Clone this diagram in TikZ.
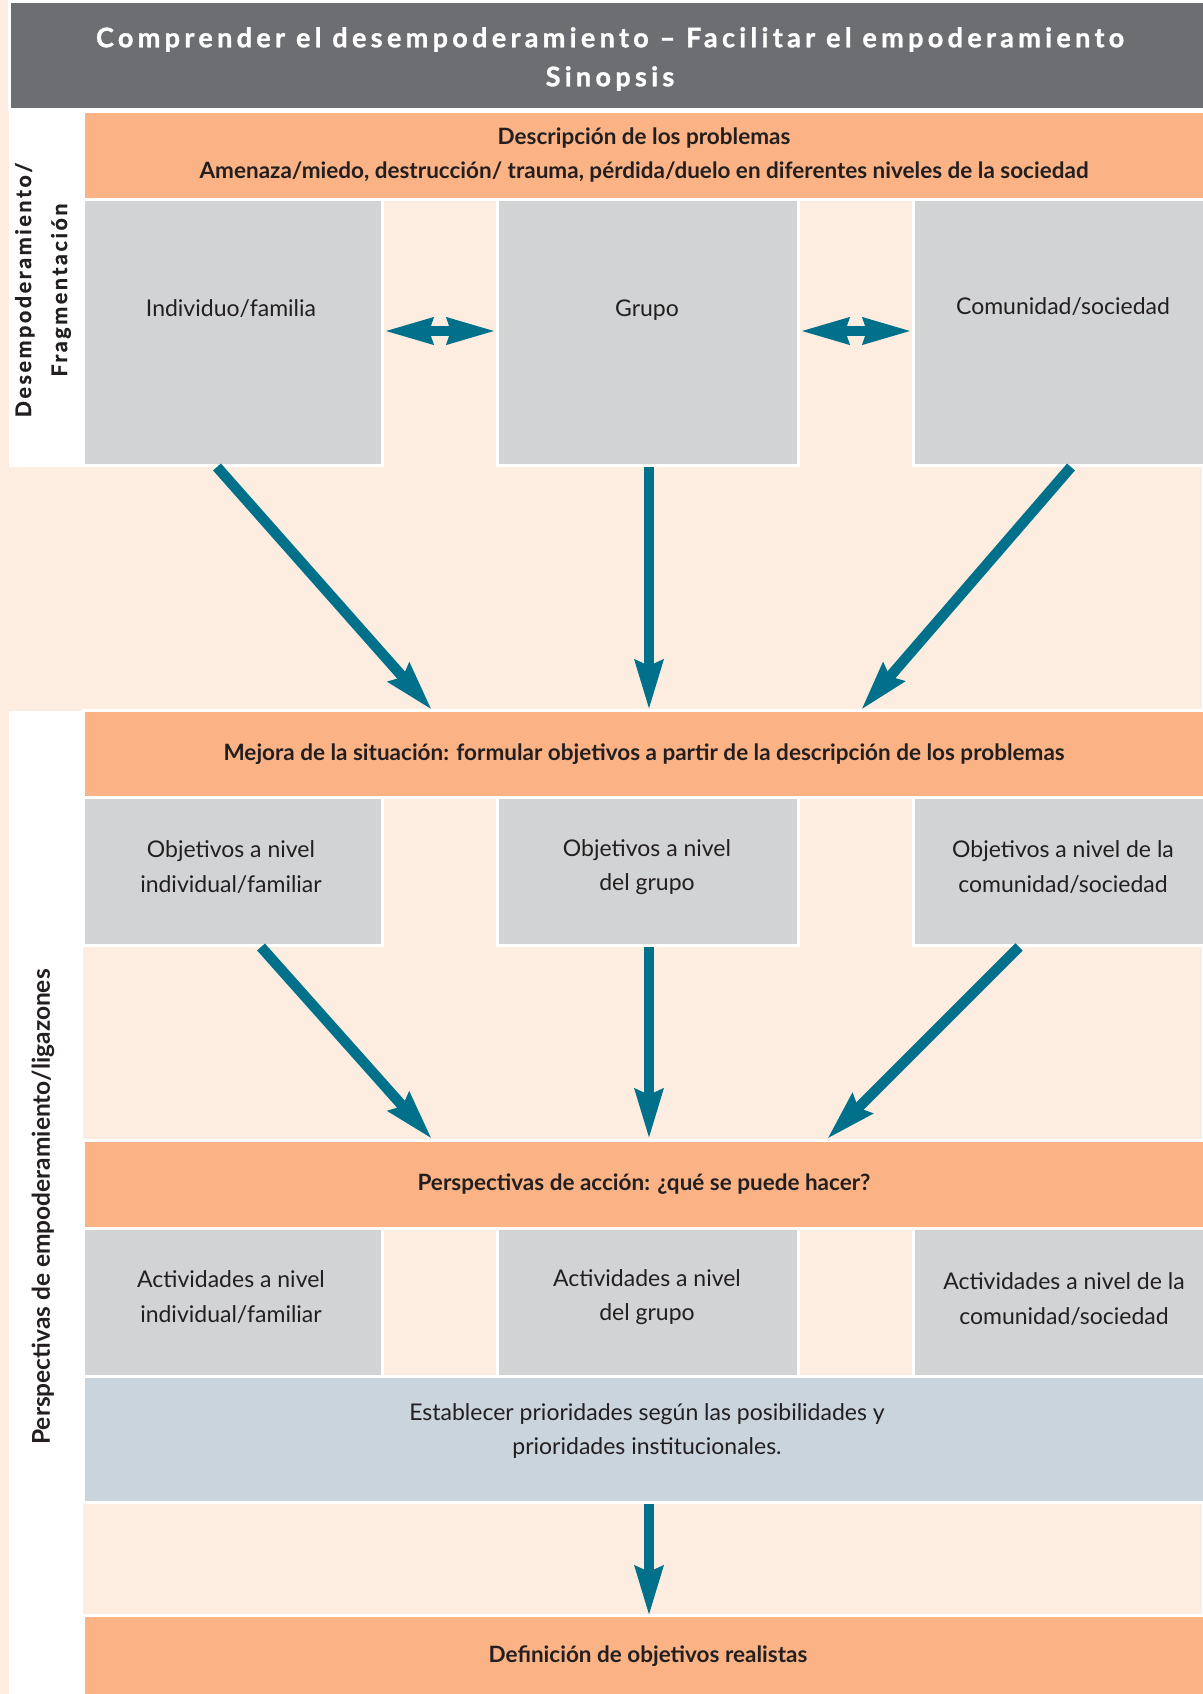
\documentclass[tikz,border=0pt]{standalone}
\usepackage{fontspec}
\setmainfont{Lato}
\newfontfamily\hdrfont[LetterSpace=16, FakeBold=1.2]{Lato}
\newfontfamily\lblfont[LetterSpace=12, FakeBold=0.8]{Lato}
\usetikzlibrary{arrows.meta}
\definecolor{peach}{HTML}{FDEDE0}
\definecolor{orng}{HTML}{FBB385}
\definecolor{gry}{HTML}{D1D3D4}
\definecolor{blu}{HTML}{C9D4DD}
\definecolor{hdrgray}{HTML}{6D6E71}
\definecolor{teal}{HTML}{00708B}
\definecolor{txt}{HTML}{231F20}
\tikzset{
  box/.style={draw=white, line width=3pt, inner sep=0pt, outer sep=0pt, text=txt, align=center},
  obox/.style={box, fill=orng, font=\bfseries\fontsize{22.5}{34}\selectfont},
  gbox/.style={box, fill=gry, font=\fontsize{23}{34.6}\selectfont},
  bbox/.style={box, fill=blu, font=\fontsize{23}{34.6}\selectfont},
  plain/.style={inner sep=0pt, outer sep=0pt, text=txt, align=center, font=\fontsize{23}{34.6}\selectfont},
  flow/.style={draw=teal, line width=10.5pt, -{Stealth[length=49pt, width=27pt, inset=5pt]}},
  both/.style={draw=teal, line width=10pt, {Stealth[length=48pt, width=25pt, inset=3pt]}-{Stealth[length=48pt, width=25pt, inset=3pt]}}
}
\begin{document}
\begin{tikzpicture}[x=1pt, y=-1pt]
\useasboundingbox (0,0) rectangle (1202,1694);
\fill[peach] (0,0) rectangle (1202,1694);

% header
\node[box, fill=hdrgray, minimum width=1200, minimum height=107] (hdr) at (609,55.5) {};
\node[inner sep=0pt, text=white, align=center, font=\hdrfont\bfseries\fontsize{27}{39}\selectfont] (hdrtxt) at (610,59)
  {Comprender el desempoderamiento – Facilitar el empoderamiento\\Sinopsis};

% left label columns
\fill[white] (9,110) rectangle (83,467);
\fill[white] (9,711) rectangle (83,1694);
\node[rotate=90, inner sep=0pt, text=txt, align=center, font=\lblfont\bfseries\fontsize{21.5}{36}\selectfont] (lab1) at (43,290)
  {Desempoderamiento/\\Fragmentación};
\node[rotate=90, inner sep=0pt, text=txt, font=\bfseries\fontsize{24.5}{30}\selectfont] (lab2) at (43,1207)
  {Perspectivas de empoderamiento/ligazones};

% row 1
\node[obox, minimum width=1122, minimum height=88] (o1) at (644,155.5)
  {Descripción de los problemas\\Amenaza/miedo, destrucción/ trauma, pérdida/duelo en diferentes niveles de la sociedad};
\node[gbox, minimum width=299.5, minimum height=266] (g11) at (232.75,332.5) {};
\node[gbox, minimum width=301, minimum height=266] (g12) at (648,332.5) {};
\node[gbox, minimum width=291.5, minimum height=266] (g13) at (1059.25,332.5) {};
\node[plain, anchor=base] (t11) at (231,316) {Individuo/familia};
\node[plain, anchor=base] (t12) at (647,316) {Grupo};
\node[plain, anchor=base] (t13) at (1063,314) {Comunidad/sociedad};

\coordinate (d1a) at (384,331); \coordinate (d1b) at (496,331);
\coordinate (d2a) at (800,331); \coordinate (d2b) at (912,331);
\draw[both] (d1a) -- (d1b);
\draw[both] (d2a) -- (d2b);

% row 2
\node[obox, minimum width=1122, minimum height=87] (o2) at (644,754)
  {Mejora de la situación: formular objetivos a partir de la descripción de los problemas};
\node[gbox, minimum width=299.5, minimum height=148] (g21) at (232.75,871.5) {};
\node[gbox, minimum width=301, minimum height=148] (g22) at (648,871.5) {};
\node[gbox, minimum width=291.5, minimum height=148] (g23) at (1059.25,871.5) {};
\node[plain] (t21) at (231,867) {Objetivos a nivel\\individual/familiar};
\node[plain] (t22) at (647,867) {Objetivos a nivel\\del grupo};
\node[plain] (t23) at (1063,867) {Objetivos a nivel de la\\comunidad/sociedad};

% row 3
\node[obox, minimum width=1122, minimum height=88] (o3) at (644,1184.5)
  {Perspectivas de acción: ¿qué se puede hacer?};
\node[gbox, minimum width=299.5, minimum height=148] (g31) at (232.75,1302.5) {};
\node[gbox, minimum width=301, minimum height=148] (g32) at (648,1302.5) {};
\node[gbox, minimum width=291.5, minimum height=148] (g33) at (1059.25,1302.5) {};
\node[plain] (t31) at (231,1297) {Actividades a nivel\\individual/familiar};
\node[plain] (t32) at (647,1297) {Actividades a nivel\\del grupo};
\node[plain] (t33) at (1064,1299) {Actividades a nivel de la\\comunidad/sociedad};

\node[bbox, minimum width=1122, minimum height=126] (bl) at (644,1439.5) {};
\node[plain] (tbl) at (647,1431) {Establecer prioridades según las posibilidades y\\prioridades institucionales.};

\node[obox, minimum width=1122, minimum height=84.5] (o4) at (644,1657.75) {};
\node[inner sep=0pt, text=txt, font=\bfseries\fontsize{22.5}{34}\selectfont] (t4) at (648,1656) {Definición de objetivos realistas};

% arrows
\coordinate (a1s) at (217,467);  \coordinate (a1e) at (432,710);
\coordinate (a2s) at (649,467);  \coordinate (a2e) at (649,710);
\coordinate (a3s) at (1071,467); \coordinate (a3e) at (861,710);
\coordinate (b1s) at (261,947);  \coordinate (b1e) at (432,1139);
\coordinate (b2s) at (649,947);  \coordinate (b2e) at (649,1139);
\coordinate (b3s) at (1019,947); \coordinate (b3e) at (827,1139);
\coordinate (c1s) at (649,1504); \coordinate (c1e) at (649,1616);
\draw[flow] (a1s) -- (a1e);
\draw[flow] (a2s) -- (a2e);
\draw[flow] (a3s) -- (a3e);
\draw[flow] (b1s) -- (b1e);
\draw[flow] (b2s) -- (b2e);
\draw[flow] (b3s) -- (b3e);
\draw[flow] (c1s) -- (c1e);
\end{tikzpicture}
\end{document}
